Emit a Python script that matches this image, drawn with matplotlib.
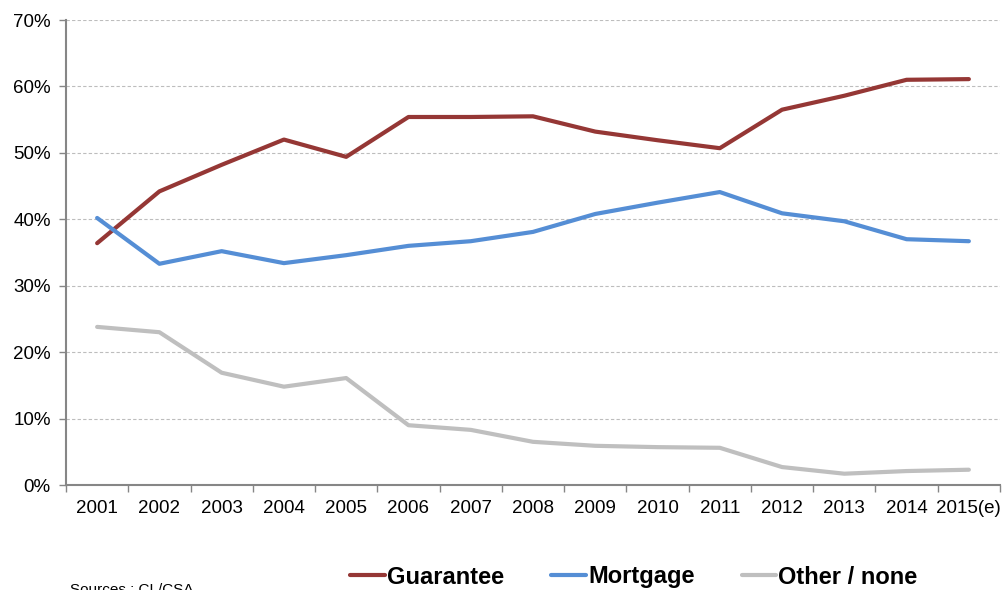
import matplotlib
matplotlib.use("Agg")
import matplotlib.pyplot as plt
from matplotlib.ticker import FixedLocator, FuncFormatter

plt.rcParams['font.family'] = ['Liberation Sans', 'DejaVu Sans']

years = ["2001", "2002", "2003", "2004", "2005", "2006", "2007", "2008",
         "2009", "2010", "2011", "2012", "2013", "2014", "2015(e)"]
guarantee = [36.4, 44.2, 48.2, 52.0, 49.4, 55.4, 55.4, 55.5, 53.2, 51.9, 50.7, 56.5, 58.6, 61.0, 61.1]
mortgage = [40.2, 33.3, 35.2, 33.4, 34.6, 36.0, 36.7, 38.1, 40.8, 42.5, 44.1, 40.9, 39.7, 37.0, 36.7]
other = [23.8, 23.0, 16.9, 14.8, 16.1, 9.0, 8.3, 6.5, 5.9, 5.7, 5.6, 2.7, 1.7, 2.1, 2.3]

series = [("Guarantee", guarantee, "#953735"),
          ("Mortgage", mortgage, "#558ED5"),
          ("Other / none", other, "#BFBFBF")]

fig = plt.figure(figsize=(10.04, 5.90), dpi=100)
ax = fig.add_axes([66 / 1004, 1 - 485 / 590, 934 / 1004, 465 / 590])

x = list(range(len(years)))
handles = []
for name, vals, col in series:
    h, = ax.plot(x, vals, color=col, lw=3.0, solid_joinstyle='round',
                 solid_capstyle='round', label=name, zorder=3)
    handles.append(h)

ax.set_xlim(-0.5, len(years) - 0.5)
ax.set_ylim(0, 70)

ax.yaxis.set_major_locator(FixedLocator(range(0, 71, 10)))
ax.yaxis.set_major_formatter(FuncFormatter(lambda v, p: f"{int(v)}%"))
ax.grid(axis='y', color='#BDBDBD', linestyle=(0, (3, 2)), linewidth=0.8)
ax.set_axisbelow(True)

# category boundaries carry the ticks, centres carry the labels
ax.xaxis.set_major_locator(FixedLocator([i - 0.5 for i in range(len(years) + 1)]))
ax.xaxis.set_major_formatter(FuncFormatter(lambda v, p: ""))
ax.xaxis.set_minor_locator(FixedLocator(x))
ax.set_xticklabels(years, minor=True)
ax.tick_params(axis='x', which='major', length=5, color='#868686', direction='out', width=1)
ax.tick_params(axis='x', which='minor', length=0, pad=11, labelsize=13.5)
ax.tick_params(axis='y', length=5, color='#868686', direction='out', width=1,
               labelsize=13.5, pad=6)

for s in ('top', 'right'):
    ax.spines[s].set_visible(False)
for s in ('left', 'bottom'):
    ax.spines[s].set_color('#868686')
    ax.spines[s].set_linewidth(1.5)

fig.legend(handles=handles, loc='center', bbox_to_anchor=(634 / 1004, 1 - 577 / 590),
           ncol=3, frameon=False, handlelength=1.45, handletextpad=0.1,
           columnspacing=2.0, prop={'weight': 'bold', 'size': 17})

fig.text(70 / 1004, 1 - 583 / 590, "Sources : CL/CSA", fontsize=11, va='top', ha='left')

fig.savefig("out.png", dpi=100)
